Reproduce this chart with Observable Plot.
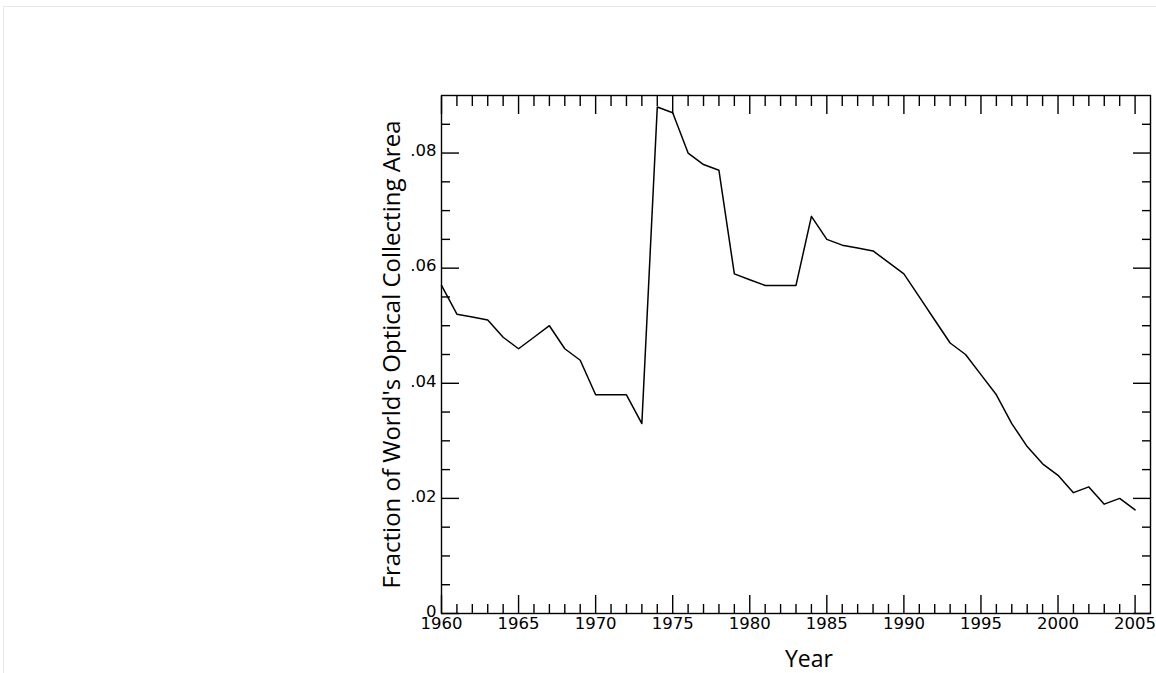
<!DOCTYPE html>
<html><head><meta charset="utf-8">
<script src="https://cdn.jsdelivr.net/npm/d3@7"></script>
<script src="https://cdn.jsdelivr.net/npm/@observablehq/plot@0.6"></script>
<style>
html,body{margin:0;padding:0;background:#fff;}
#chart{position:relative;width:1156px;height:673px;overflow:hidden;}
#edge{position:absolute;left:3px;top:6px;width:1200px;height:800px;border-top:1px solid #e8e8e8;border-left:1px solid #e8e8e8;pointer-events:none;}
#chart svg g.ticklab, #chart svg g.ticklab text{font-family:"DejaVu Sans",sans-serif !important;font-size:16.5px !important;}
#chart svg g.ytitle, #chart svg g.ytitle text, #chart svg g.xtitle, #chart svg g.xtitle text{font-family:"Open Sans",sans-serif !important;}
</style></head><body><div id="chart"><div id="edge"></div></div>
<script>
const years = [1960,1961,1962,1963,1964,1965,1966,1967,1968,1969,1970,1971,1972,1973,1974,1975,1976,1977,1978,1979,1980,1981,1982,1983,1984,1985,1986,1987,1988,1989,1990,1991,1992,1993,1994,1995,1996,1997,1998,1999,2000,2001,2002,2003,2004,2005];
const fractions = [0.057,0.052,0.0515,0.051,0.048,0.046,0.048,0.050,0.046,0.044,0.038,0.038,0.038,0.033,0.088,0.087,0.080,0.078,0.077,0.059,0.058,0.057,0.057,0.057,0.069,0.065,0.064,0.0635,0.063,0.061,0.059,0.055,0.051,0.047,0.045,0.0415,0.038,0.033,0.029,0.026,0.024,0.021,0.022,0.019,0.020,0.018];
const xMajorTicks = [1960,1965,1970,1975,1980,1985,1990,1995,2000,2005];
const xMinorTicks = [1961,1962,1963,1964,1966,1967,1968,1969,1971,1972,1973,1974,1976,1977,1978,1979,1981,1982,1983,1984,1986,1987,1988,1989,1991,1992,1993,1994,1996,1997,1998,1999,2001,2002,2003,2004];
const yMajorTicks = [0,0.02,0.04,0.06,0.08];
const yMinorTicks = [0.005,0.01,0.015,0.025,0.03,0.035,0.045,0.05,0.055,0.065,0.07,0.075,0.085];
const xTitle = "Year";
const yTitle = "Fraction of World's Optical Collecting Area";

const data = years.map((year, i) => ({year, fraction: fractions[i]}));
const fmtY = d => d === 0 ? "0" : d3.format(".2f")(d).replace(/^0/, "");
const blank = () => "";
const labelFont = {fontFamily: "DejaVu Sans", fontSize: 16.5, fill: "black"};

const chart = Plot.plot({
  width: 1156,
  height: 673,
  marginLeft: 441,
  marginRight: 6,
  marginTop: 95,
  marginBottom: 60,
  style: {fontFamily: "DejaVu Sans", fontSize: "15px", color: "black", background: "transparent"},
  x: {domain: [1960, 2006]},
  y: {domain: [0, 0.09]},
  marks: [
    Plot.axisX(xMajorTicks, {anchor: "bottom", tickSize: -18, tickFormat: blank, label: null, strokeWidth: 1.4}),
    Plot.axisX(xMinorTicks, {anchor: "bottom", tickSize: -9, tickFormat: blank, label: null, strokeWidth: 1.4}),
    Plot.axisX(xMajorTicks, {anchor: "top", tickSize: -18, tickFormat: blank, label: null, strokeWidth: 1.4}),
    Plot.axisX(xMinorTicks, {anchor: "top", tickSize: -10, tickFormat: blank, label: null, strokeWidth: 1.4}),
    Plot.axisY(yMajorTicks, {anchor: "left", tickSize: -18, tickFormat: blank, label: null, strokeWidth: 1.4}),
    Plot.axisY(yMinorTicks, {anchor: "left", tickSize: -9, tickFormat: blank, label: null, strokeWidth: 1.4}),
    Plot.axisY(yMajorTicks, {anchor: "right", tickSize: -18, tickFormat: blank, label: null, strokeWidth: 1.4}),
    Plot.axisY(yMinorTicks, {anchor: "right", tickSize: -9, tickFormat: blank, label: null, strokeWidth: 1.4}),
    Plot.text(xMajorTicks, {x: d => d, frameAnchor: "bottom", text: d => String(d), lineAnchor: "top", dy: 4, className: "ticklab", ...labelFont}),
    Plot.text(yMajorTicks, {y: d => d, frameAnchor: "left", text: fmtY, textAnchor: "end", lineAnchor: "middle", dx: -5, dy: -2, className: "ticklab", ...labelFont}),
    Plot.frame({stroke: "black", strokeWidth: 1.4}),
    Plot.line(data, {x: "year", y: "fraction", stroke: "black", strokeWidth: 1.5}),
    Plot.text([xTitle], {frameAnchor: "bottom", text: d => d, dx: 13, dy: 46, fontFamily: "Open Sans", fontSize: 23, fill: "black", lineAnchor: "middle", className: "xtitle"}),
    Plot.text([yTitle], {frameAnchor: "left", text: d => d, dx: -49, rotate: -90, fontFamily: "Open Sans", fontSize: 24, fill: "black", lineAnchor: "middle", textAnchor: "middle", className: "ytitle"})
  ]
});
document.getElementById("chart").prepend(chart);
</script>
</body></html>
